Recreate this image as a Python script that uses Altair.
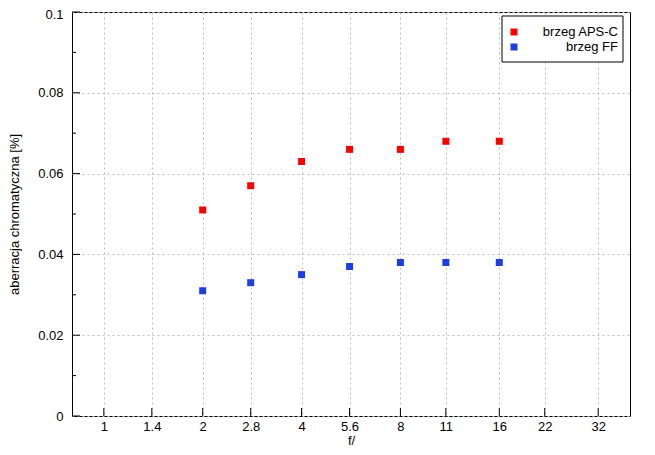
import altair as alt
import pandas as pd

# ---- data ----
f_stops = [2, 2.8, 4, 5.6, 8, 11, 16]
aps_c = [0.051, 0.057, 0.063, 0.066, 0.066, 0.068, 0.068]
ff = [0.031, 0.033, 0.035, 0.037, 0.038, 0.038, 0.038]
series_names = ["brzeg APS-C", "brzeg FF"]
series_colors = ["#ff0000", "#1a3fe6"]
x_ticks = [1, 1.4, 2, 2.8, 4, 5.6, 8, 11, 16, 22, 32]
y_major = [0, 0.02, 0.04, 0.06, 0.08, 0.1]
y_minor = [0.01, 0.03, 0.05, 0.07, 0.09]

FONT = "Liberation Sans"
FS = 13
W, H = 558, 404

df = pd.DataFrame({
    "f": f_stops * 2,
    "v": aps_c + ff,
    "s": [series_names[0]] * len(f_stops) + [series_names[1]] * len(f_stops),
})

xscale = alt.Scale(type="log", domain=[0.8, 40], nice=False)
yscale = alt.Scale(domain=[0, 0.1], nice=False, zero=False)

axis_common = dict(
    grid=True, gridDash=[2, 3], gridColor="#bdbdbd", gridWidth=1,
    domain=False, ticks=False, tickSize=0,
    labelFont=FONT, labelFontSize=FS, labelColor="black",
    titleFont=FONT, titleFontSize=FS, titleFontWeight="normal", titleColor="black",
    titleAlign="center", titleBaseline="middle",
)
x_axis = alt.Axis(values=x_ticks, format="~g", labelPadding=4,
                  title="f/", titleX=W / 2, titleY=24.5, **axis_common)
y_axis = alt.Axis(values=y_major, format="~g", labelPadding=9,
                  labelOffset={"condition": {"test": "datum.value >= 0.099", "value": 2},
                               "value": 0},
                  title="aberracja chromatyczna [%]", titleAngle=270,
                  titleX=-58, titleY=H / 2, **axis_common)

points = alt.Chart(df).mark_square(size=49, opacity=1, filled=True).encode(
    x=alt.X("f:Q", scale=xscale, axis=x_axis),
    y=alt.Y("v:Q", scale=yscale, axis=y_axis),
    color=alt.Color("s:N", scale=alt.Scale(domain=series_names, range=series_colors),
                    legend=None),
)

xt = alt.Chart(pd.DataFrame({"f": x_ticks})).mark_rule(color="black", strokeWidth=1).encode(
    x=alt.X("f:Q", scale=xscale, axis=x_axis), y=alt.value(H), y2=alt.value(H - 8))
yt = alt.Chart(pd.DataFrame({"v": y_major})).mark_rule(color="black", strokeWidth=1).encode(
    y=alt.Y("v:Q", scale=yscale, axis=y_axis), x=alt.value(0), x2=alt.value(8))
ym = alt.Chart(pd.DataFrame({"v": y_minor})).mark_rule(color="black", strokeWidth=1).encode(
    y=alt.Y("v:Q", scale=yscale, axis=y_axis), x=alt.value(0), x2=alt.value(4))

# legend (gnuplot style: boxed, right-aligned text)
leg_box = alt.Chart(pd.DataFrame({"a": [0]})).mark_rect(
    fill="white", stroke="black", strokeWidth=1).encode(
    x=alt.value(430), x2=alt.value(551), y=alt.value(4), y2=alt.value(50))
leg_layers = [leg_box]
for i, (name, col) in enumerate(zip(series_names, series_colors)):
    yy = 20 + 15 * i
    d = pd.DataFrame({"name": [name]})
    leg_layers.append(alt.Chart(d).mark_square(size=49, color=col, filled=True, opacity=1).encode(
        x=alt.value(442), y=alt.value(yy)))
    leg_layers.append(alt.Chart(d).mark_text(align="right", baseline="middle", font=FONT,
                                             fontSize=FS, color="black").encode(
        text="name:N", x=alt.value(546), y=alt.value(yy)))

chart = alt.layer(points, xt, yt, ym, *leg_layers).properties(
    width=W, height=H,
    padding={"left": 64, "top": 4, "right": 17, "bottom": 31},
    autosize=alt.AutoSizeParams(type="none"),
    background="white",
).configure_view(stroke="black", strokeWidth=1)

chart.save("out.html", embed_options={"renderer": "svg", "actions": False})
